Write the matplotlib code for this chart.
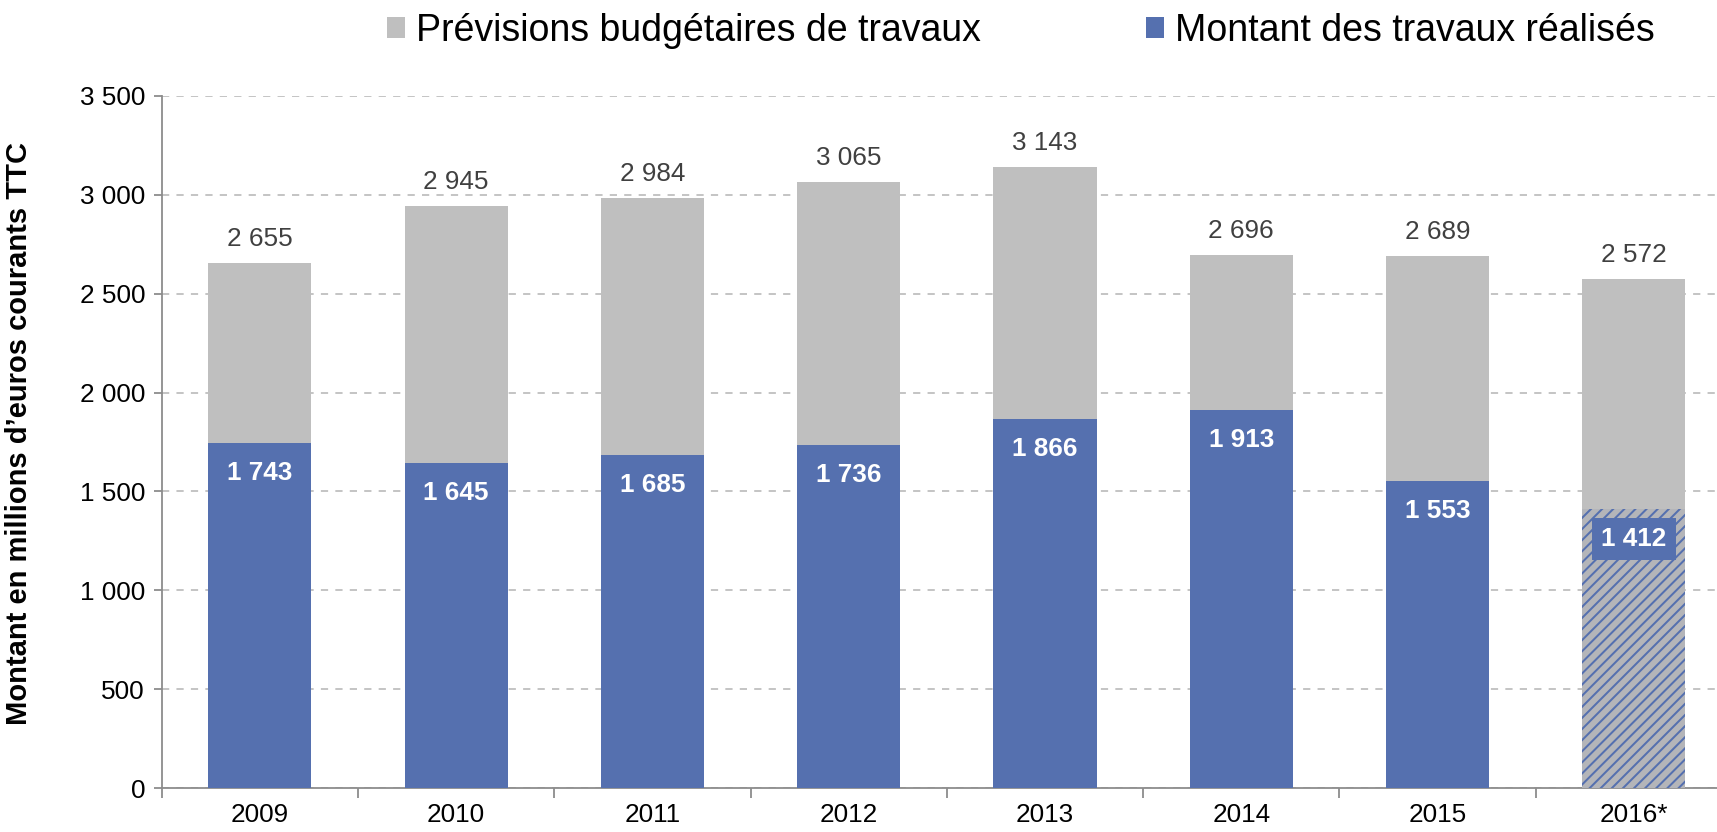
import matplotlib
matplotlib.use("Agg")
import matplotlib.pyplot as plt
from matplotlib.patches import Patch
from matplotlib.ticker import FixedLocator, NullFormatter

plt.rcParams['font.family'] = ['Liberation Sans', 'DejaVu Sans']
plt.rcParams['hatch.linewidth'] = 1.45

years = ['2009', '2010', '2011', '2012', '2013', '2014', '2015', '2016*']
previsions = [2655, 2945, 2984, 3065, 3143, 2696, 2689, 2572]
realises = [1743, 1645, 1685, 1736, 1866, 1913, 1553, 1412]
yticks = [0, 500, 1000, 1500, 2000, 2500, 3000, 3500]

GRAY = '#BFBFBF'
BLUE = '#5570AF'
FS = 18.8

def fmt(v):
    return f"{v:,}".replace(',', ' ')

fig = plt.figure(figsize=(17.17, 8.32), dpi=100)
ax = fig.add_axes([161.7/1717, 1-788/832, (1732-161.7)/1717, 692/832])

x = list(range(len(years)))
w = 0.525
ax.bar(x, previsions, width=w, color=GRAY, zorder=2)
for i, v in enumerate(realises):
    if i == len(years) - 1:
        ax.bar(i, v, width=w, facecolor='#B4B5B9', edgecolor=BLUE, hatch='///',
               linewidth=0, zorder=3)
    else:
        ax.bar(i, v, width=w, color=BLUE, zorder=3)

for i, v in enumerate(previsions):
    ax.annotate(fmt(v), (i, v), xytext=(0, 24), textcoords='offset pixels',
                ha='center', va='center', fontsize=FS, color='#404040')
for i, v in enumerate(realises):
    kw = {}
    if i == len(years) - 1:
        kw['bbox'] = dict(boxstyle='square,pad=0.35', facecolor=BLUE, edgecolor='none')
    ax.annotate(fmt(v), (i, v), xytext=(0, -30), textcoords='offset pixels',
                ha='center', va='center', fontsize=FS, color='white',
                fontweight='bold', zorder=5, **kw)

ax.set_xlim(-0.5, len(years) - 0.5)
ax.set_ylim(0, 3500)
ax.set_yticks(yticks)
ax.set_yticklabels([fmt(t) for t in yticks], fontsize=FS)
ax.yaxis.grid(True, linestyle=(0, (4, 4)), color='#BFBFBF', linewidth=1.3)
ax.set_axisbelow(True)

ax.xaxis.set_major_locator(FixedLocator([i + 0.5 for i in range(-1, len(years))]))
ax.xaxis.set_major_formatter(NullFormatter())
ax.xaxis.set_minor_locator(FixedLocator(x))
ax.set_xticklabels(years, minor=True, fontsize=FS)
ax.tick_params(axis='x', which='minor', length=0, pad=11)
ax.tick_params(axis='x', which='major', length=7, color='#8C8C8C', width=1.3)
ax.tick_params(axis='y', length=6, color='#8C8C8C', width=1.3, pad=6)

for s in ['top', 'right']:
    ax.spines[s].set_visible(False)
for s in ['left', 'bottom']:
    ax.spines[s].set_color('#8C8C8C')
    ax.spines[s].set_linewidth(1.3)

ax.set_ylabel("Montant en millions d\u2019euros courants TTC", fontsize=21,
              fontweight='bold')
ax.yaxis.set_label_coords((33 - 161.7) / 1570.3, 0.512)

handles = [Patch(facecolor=GRAY, edgecolor='none'), Patch(facecolor=BLUE, edgecolor='none')]
fig.legend(handles, ['Prévisions budgétaires de travaux', 'Montant des travaux réalisés'],
           loc='center', bbox_to_anchor=(1021/1717, 1-31/832), ncol=2, frameon=False,
           fontsize=27, handlelength=0.48, handleheight=0.48, handletextpad=0.29,
           columnspacing=4.4, borderpad=0, borderaxespad=0)

fig.savefig('out.png', dpi=100)
